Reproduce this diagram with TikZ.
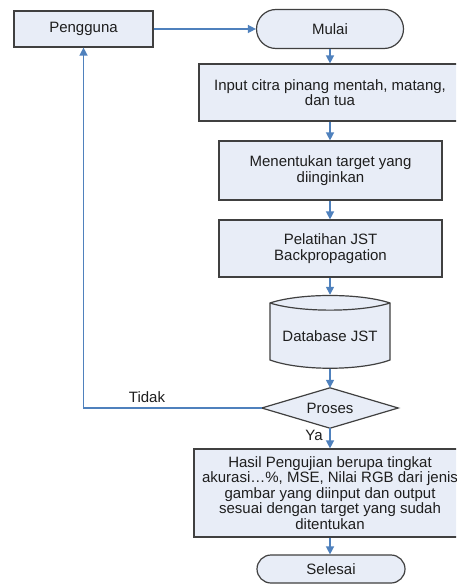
\documentclass[tikz,border=0pt]{standalone}
\usepackage{fontspec}
\setmainfont{Liberation Sans}
\usetikzlibrary{arrows.meta,shapes.misc}
\definecolor{boxfill}{RGB}{232,237,247}
\definecolor{boxline}{RGB}{64,64,64}
\definecolor{arrowblue}{RGB}{79,129,189}
\definecolor{txt}{RGB}{30,30,30}
\tikzset{
  every node/.style={font=\fontsize{15}{15.5}\selectfont, text=txt},
  procbox/.style={draw=boxline, line width=1.2pt, fill=boxfill, rectangle, inner sep=2pt, align=center},
  termbox/.style={draw=boxline, line width=1.2pt, fill=boxfill, rounded rectangle, inner sep=2pt, align=center},
  flow/.style={draw=arrowblue, line width=1.4pt, -{Triangle[length=8pt,width=8pt]}},
  shapeline/.style={draw=boxline, line width=1.2pt},
}
\begin{document}
\begin{tikzpicture}[x=1pt,y=-1pt]
\useasboundingbox (0,0) rectangle (456,585);
\clip (0,0) rectangle (456,585);
\fill[white] (0,0) rectangle (456,585);

\node[procbox, minimum width=139pt, minimum height=36pt] (pengguna) at (83.5,29) {Pengguna};
\node[termbox, minimum width=151pt, minimum height=39pt] (mulai) at (330,29) {Mulai};
\node[procbox, minimum width=262pt, minimum height=57pt] (input) at (330,92.5) {Input citra pinang mentah, matang,\\dan tua};
\node[procbox, minimum width=223pt, minimum height=59pt] (menentukan) at (330.5,170.5) {Menentukan target yang\\diinginkan};
\node[procbox, minimum width=223pt, minimum height=57pt] (pelatihan) at (330.5,248.5) {Pelatihan JST\\Backpropagation};

% database cylinder
\node[minimum width=120pt, minimum height=74pt, inner sep=0pt] (db) at (330,332) {};
\path[shapeline, fill=boxfill] (270,303) .. controls (300,293) and (360,293) .. (390,303)
  -- (390,360) .. controls (360,371) and (300,371) .. (270,360) -- cycle;
\path[shapeline] (270,303) .. controls (300,312.5) and (360,312.5) .. (390,303);
\node (dbtext) at (330,336) {Database JST};

% decision
\node[minimum width=136pt, minimum height=40pt, inner sep=0pt] (proses) at (330,408) {};
\path[shapeline, fill=boxfill] (proses.west) -- (proses.north) -- (proses.east) -- (proses.south) -- cycle;
\node (prosestext) at (proses.center) {Proses};

\node[procbox, minimum width=272pt, minimum height=88pt] (hasil) at (330,493) {};
\node[align=center, inner sep=0pt] (hasiltext) at (330,493) {Hasil Pengujian berupa tingkat\\akurasi…\%, MSE, Nilai RGB dari jenis\\gambar yang diinput dan output\\sesuai dengan target yang sudah\\ditentukan};

\node[termbox, minimum width=152pt, minimum height=28pt] (selesai) at (331,569) {Selesai};

% connectors
\draw[flow] (pengguna.east) -- (mulai.west);
\draw[flow] (mulai.south) -- (input.north);
\draw[flow] (input.south) -- (input.south |- menentukan.north);
\draw[flow] (menentukan.south -| input.south) -- (input.south |- pelatihan.north);
\draw[flow] (pelatihan.south -| input.south) -- (db.north);
\draw[flow] (db.south) -- (proses.north);
\draw[flow] (proses.south) -- (hasil.north);
\draw[flow] (hasil.south) -- (hasil.south |- selesai.north);
\draw[flow] (proses.west) -| (pengguna.south);

\node (tidak) at (147,397.5) {Tidak};
\node (ya) at (314,435.5) {Ya};
\end{tikzpicture}
\end{document}
